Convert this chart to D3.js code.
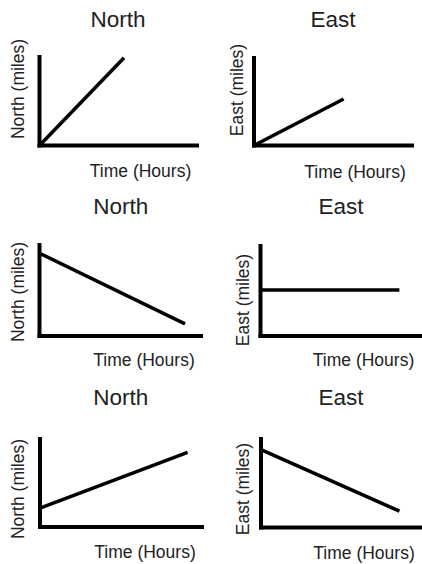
<!DOCTYPE html>
<html>
<head>
<meta charset="utf-8">
<script src="https://cdn.jsdelivr.net/npm/d3@7"></script>
<style>
  body { margin:0; background:#fff; }
  text { font-family:"Liberation Sans", Arial, sans-serif; fill:#222; }
</style>
</head>
<body>
<script>
// panel titles and axis names
var titles = ["North", "East", "North", "East", "North", "East"];
var yLabels = ["North (miles)", "East (miles)", "North (miles)", "East (miles)", "North (miles)", "East (miles)"];
var xLabel = "Time (Hours)";

// each line: start and end time, start and end distance (0-10 units)
var timeStart = [0, 0, 0, 0, 0, 0];
var timeEnd   = [5.3, 5.6, 8.9, 8.6, 9.0, 8.6];
var distStart = [0, 0, 8.9, 5.0, 2.1, 8.6];
var distEnd   = [9.7, 5.2, 1.3, 5.0, 8.3, 1.8];

var svgWidth = 422, svgHeight = 564;
var titleFont = 22.5, labelFont = 17.5;

// where each panel sits: origin of the axes, axis lengths, text spots
var layout = [
  {ox:39.5, oy:145.5, xLen:159.5, yLen:90.5, tx:118,   ty:27,  lx:140.5, ly:177, yx:24,  yy:89},
  {ox:254,  oy:145.5, xLen:160,   yLen:89.5, tx:333,   ty:27,  lx:355,   ly:178, yx:243, yy:90},
  {ox:39.5, oy:336,   xLen:163.5, yLen:93,   tx:120.7, ty:214, lx:144,   ly:366, yx:24,  yy:292},
  {ox:260.5,oy:336,   xLen:161.5, yLen:92,   tx:341,   ty:214, lx:363.5, ly:366, yx:249, yy:300},
  {ox:40,   oy:527,   xLen:164,   yLen:90,   tx:120.7, ty:405, lx:145,   ly:558, yx:24,  yy:489},
  {ox:261,  oy:527.5, xLen:161,   yLen:90.5, tx:341,   ty:405, lx:364,   ly:559, yx:249, yy:489}
];

var svg = d3.select("body").append("svg")
  .attr("width", svgWidth)
  .attr("height", svgHeight);

for (var k = 0; k < titles.length; k++) {
  var p = layout[k];
  var x = d3.scaleLinear().domain([0, 10]).range([p.ox, p.ox + p.xLen]);
  var y = d3.scaleLinear().domain([0, 10]).range([p.oy, p.oy - p.yLen]);
  var g = svg.append("g").attr("class", "panel");

  // the two axes, thick plain strokes with no ticks
  g.append("line")
    .attr("x1", x(0)).attr("y1", y(0) + 2)
    .attr("x2", x(0)).attr("y2", y(10))
    .attr("stroke", "#000").attr("stroke-width", 4);
  g.append("line")
    .attr("x1", x(0) - 2).attr("y1", y(0))
    .attr("x2", x(10)).attr("y2", y(0))
    .attr("stroke", "#000").attr("stroke-width", 4);

  // the data line
  var pts = [[timeStart[k], distStart[k]], [timeEnd[k], distEnd[k]]];
  g.append("path")
    .datum(pts)
    .attr("d", d3.line().x(function(d){ return x(d[0]); }).y(function(d){ return y(d[1]); }))
    .attr("fill", "none")
    .attr("stroke", "#000")
    .attr("stroke-width", 3.5);

  g.append("text")
    .attr("x", p.tx).attr("y", p.ty)
    .attr("text-anchor", "middle")
    .attr("font-size", titleFont)
    .text(titles[k]);

  g.append("text")
    .attr("x", p.lx).attr("y", p.ly)
    .attr("text-anchor", "middle")
    .attr("font-size", labelFont)
    .text(xLabel);

  g.append("text")
    .attr("transform", "translate(" + p.yx + "," + p.yy + ") rotate(-90)")
    .attr("text-anchor", "middle")
    .attr("font-size", labelFont)
    .text(yLabels[k]);
}
</script>
</body>
</html>
